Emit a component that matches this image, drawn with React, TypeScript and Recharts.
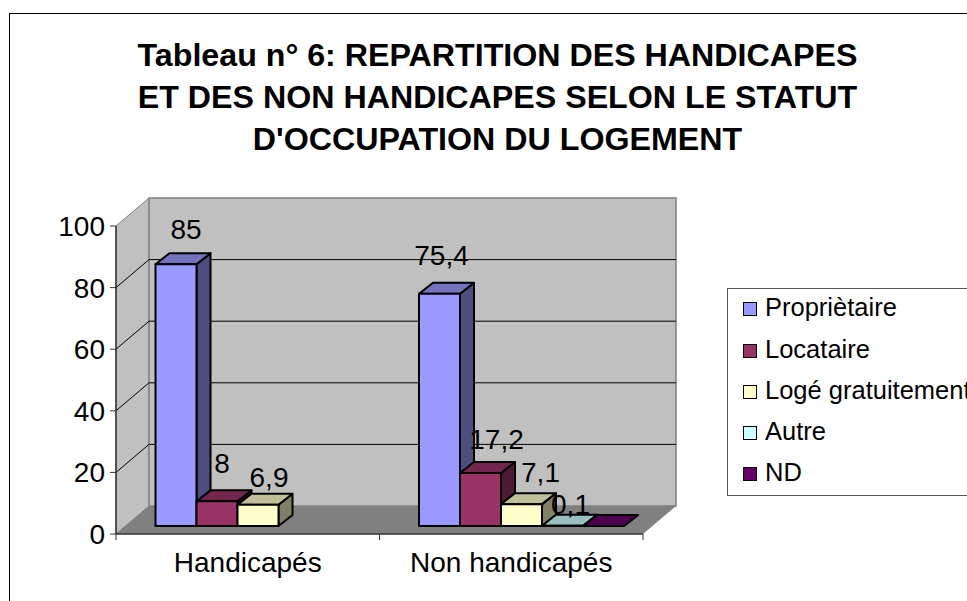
import { BarChart, Bar, XAxis, YAxis, ReferenceArea, LabelList } from "recharts";

const categories = ["Handicapés", "Non handicapés"];
const proprietaire = [85, 75.4];
const locataire = [8, 17.2];
const loge = [6.9, 7.1];
const autre = [null, 0.1];
const nd = [null, 0];
const yTicks = [0, 20, 40, 60, 80, 100];

const titleLines = [
  "Tableau n° 6: REPARTITION DES HANDICAPES",
  "ET DES NON HANDICAPES SELON LE STATUT",
  "D'OCCUPATION DU LOGEMENT",
];

// nudge = label offset from the top of the box front, per drawn label
const series = [
  { key: "proprietaire", name: "Propriètaire", front: "#9999ff", top: "#7373bf", side: "#4d4d80", nudge: [[10, -35], [2, -38]] },
  { key: "locataire", name: "Locataire", front: "#993366", top: "#73264d", side: "#4d1a33", nudge: [[5, -38], [16, -34]] },
  { key: "loge", name: "Logé gratuitement", front: "#ffffcc", top: "#bfbf99", side: "#808066", nudge: [[11, -27], [19, -32]] },
  { key: "autre", name: "Autre", front: "#ccffff", top: "#99bfbf", side: "#668080", nudge: [[8, -21], [8, -21]] },
  { key: "nd", name: "ND", front: "#660066", top: "#4d004d", side: "#330033", nudge: [[0, 0], [0, 0]], noLabel: true },
];

const data = categories.map((c, i) => ({
  category: c,
  proprietaire: proprietaire[i],
  locataire: locataire[i],
  loge: loge[i],
  autre: autre[i],
  nd: nd[i],
}));

const FONT = "'Liberation Sans', Arial, sans-serif";
// wall depth of the fake 3D box
const WALL_X = 33;
const WALL_Y = 28;
// how far the bars sit behind the front plane, and how deep they are
const BAR_X = 9;
const BAR_Y = 8;
const BOX_X = 14;
const BOX_Y = 11;

function Walls(props: any) {
  const { x, y, width, height } = props;
  const right = x + width;
  const bottom = y + height;
  return (
    <g>
      <polygon
        points={`${x},${y} ${x + WALL_X},${y - WALL_Y} ${x + WALL_X},${bottom - WALL_Y} ${x},${bottom}`}
        fill="#c0c0c0"
        stroke="#808080"
      />
      <rect x={x + WALL_X} y={y - WALL_Y} width={width} height={height} fill="#c0c0c0" stroke="#808080" strokeWidth={1.5} />
      {yTicks.slice(1, -1).map(t => {
        const ty = bottom - (height * t) / 100;
        return (
          <g key={t}>
            <line x1={x} y1={ty} x2={x + WALL_X} y2={ty - WALL_Y} stroke="#000" />
            <line x1={x + WALL_X} y1={ty - WALL_Y} x2={right + WALL_X} y2={ty - WALL_Y} stroke="#000" />
          </g>
        );
      })}
      <polygon
        points={`${x},${bottom} ${x + WALL_X},${bottom - WALL_Y} ${right + WALL_X},${bottom - WALL_Y} ${right},${bottom}`}
        fill="#808080"
      />
      {[0, 1, 2].map(i => {
        const tx = x + (width * i) / categories.length;
        return <line key={i} x1={tx} y1={bottom} x2={tx} y2={bottom + 6} stroke="#333" />;
      })}
    </g>
  );
}

function makeBox(s: (typeof series)[number]) {
  return function Box(props: any) {
    if (props.payload?.[s.key] == null) return <g />;
    const x = props.x + BAR_X;
    const y = props.y - BAR_Y;
    const w = props.width;
    const h = props.height;
    const r = x + w;
    const b = y + h;
    return (
      <g stroke="#000" strokeWidth={2} strokeLinejoin="round">
        <polygon points={`${r},${y} ${r + BOX_X},${y - BOX_Y} ${r + BOX_X},${b - BOX_Y} ${r},${b}`} fill={s.side} />
        <polygon points={`${x},${y} ${x + BOX_X},${y - BOX_Y} ${r + BOX_X},${y - BOX_Y} ${r},${y}`} fill={s.top} />
        <rect x={x} y={y} width={w} height={h} fill={s.front} />
      </g>
    );
  };
}

function makeLabel(s: (typeof series)[number]) {
  return function BoxLabel(props: any) {
    const { x, y, width, value, index } = props;
    if (value == null) return <g />;
    const [nx, ny] = s.nudge[index];
    return (
      <text
        x={x + BAR_X + width / 2 + nx}
        y={y - BAR_Y + ny}
        textAnchor="middle"
        dominantBaseline="central"
        fontFamily={FONT}
        fontSize={28}
        fill="#000"
      >
        {String(value).replace(".", ",")}
      </text>
    );
  };
}

export default function App() {
  return (
    <div style={{ position: "absolute", left: 0, top: 0, width: 967, height: 601, overflow: "hidden", background: "#fff", fontFamily: FONT }}>
      <div style={{ position: "absolute", left: 9, top: 13, width: 1100, height: 800, border: "1px solid #000" }} />
      <div style={{ position: "absolute", left: 0, top: 34, width: 995, textAlign: "center", fontWeight: 700, fontSize: 32.2, lineHeight: "42px", color: "#000" }}>
        {titleLines.map(l => (
          <div key={l}>{l}</div>
        ))}
      </div>

      <div style={{ position: "absolute", left: 0, top: 0 }}>
        <BarChart
          width={967}
          height={601}
          data={data}
          margin={{ top: 226, right: 324, bottom: 17, left: 16 }}
          barCategoryGap={30.5}
          barGap={0}
        >
          <ReferenceArea y1={0} y2={100} shape={<Walls />} />
          <XAxis
            dataKey="category"
            interval={0}
            height={50}
            tickLine={false}
            axisLine={{ stroke: "#333", strokeWidth: 1.5 }}
            tick={{ fontSize: 28, fill: "#000", fontFamily: FONT }}
            tickMargin={12}
          />
          <YAxis
            domain={[0, 100]}
            ticks={yTicks}
            interval={0}
            width={100}
            tickSize={6}
            tickLine={{ stroke: "#333" }}
            axisLine={{ stroke: "#333", strokeWidth: 1.5 }}
            tick={{ fontSize: 28, fill: "#000", fontFamily: FONT }}
            tickMargin={5}
          />
          {series.map(s => (
            <Bar key={s.key} dataKey={s.key} name={s.name} fill={s.front} isAnimationActive={false} shape={makeBox(s)}>
              {!s.noLabel && <LabelList dataKey={s.key} content={makeLabel(s)} />}
            </Bar>
          ))}
        </BarChart>
      </div>

      <div style={{ position: "absolute", left: 727, top: 288, width: 300, height: 208, border: "1px solid #555", background: "#fff", boxSizing: "border-box" }}>
        {series.map((s, i) => (
          <div key={s.key} style={{ position: "absolute", left: 37, top: [3, 45, 86, 127, 168][i], fontSize: 25.5, lineHeight: "30px", whiteSpace: "nowrap", color: "#000" }}>
            {s.name}
          </div>
        ))}
        {series.map((s, i) => (
          <div key={s.key} style={{ position: "absolute", left: 15, top: [13, 55, 96, 137, 178][i], width: 14, height: 14, boxSizing: "border-box", border: "1.5px solid #000", background: s.front }} />
        ))}
      </div>
    </div>
  );
}
